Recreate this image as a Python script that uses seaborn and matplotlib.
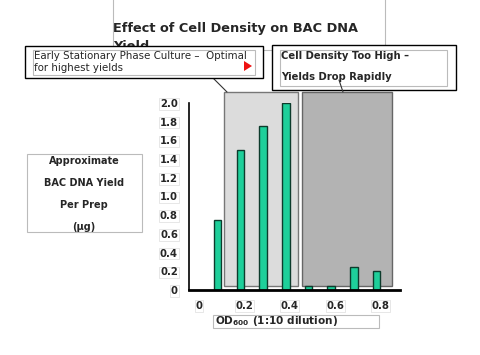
import numpy as np
import matplotlib
matplotlib.use("Agg")
import matplotlib.pyplot as plt
import seaborn as sns
from matplotlib.patches import Rectangle, Polygon
from matplotlib.lines import Line2D
from matplotlib.transforms import ScaledTranslation

# ---- data ----
od_values = [0.1, 0.2, 0.3, 0.4, 0.5, 0.6, 0.7, 0.8]
dna_yield = [0.75, 1.5, 1.75, 2.0, 0.04, 0.04, 0.25, 0.2]
x_tick_vals = [0, 0.2, 0.4, 0.6, 0.8]
x_tick_labels = ["0", "0.2", "0.4", "0.6", "0.8"]
y_tick_vals = [0, 0.2, 0.4, 0.6, 0.8, 1.0, 1.2, 1.4, 1.6, 1.8, 2.0]
y_tick_labels = ["0", "0.2", "0.4", "0.6", "0.8", "1.0", "1.2", "1.4", "1.6", "1.8", "2.0"]
title = "Effect of Cell Density on BAC DNA\nYield"
ylabel_lines = ["Approximate", "BAC DNA Yield", "Per Prep", "(\u00b5g)"]
note_left = "Early Stationary Phase Culture \u2013  Optimal\nfor highest yields"
note_right_1 = "Cell Density Too High \u2013"
note_right_2 = "Yields Drop Rapidly"

sns.set_style("white")
plt.rcParams['font.family'] = ['DejaVu Sans']
plt.rcParams['mathtext.default'] = 'regular'

W, H = 480, 355
fig = plt.figure(figsize=(W / 100, H / 100), dpi=100)
fig.patch.set_facecolor("white")


def fx(px):
    return px / W


def fy(py):
    return 1 - py / H


def frect(x0, y0, x1, y1, **kw):
    r = Rectangle((fx(x0), fy(y1)), fx(x1) - fx(x0), fy(y0) - fy(y1),
                  transform=fig.transFigure, **kw)
    fig.add_artist(r)
    return r


# axes: left 189, right 400, bottom 290 (y=0), top 103 (y=2.0)
ax = fig.add_axes([fx(189), fy(290), fx(400) - fx(189), fy(103) - fy(290)])
ax.set_facecolor("none")

sns.barplot(x=od_values, y=dna_yield, native_scale=True, width=0.33,
            color="#1ecf9a", edgecolor="#0d3b2c", linewidth=1.0,
            saturation=1, ax=ax, zorder=5)

ax.set_xlim(-0.026, 0.903)
ax.set_ylim(0, 2.0)

# shaded regions
ax.add_patch(Rectangle((0.128, 0.04), 0.454 - 0.128, 2.12 - 0.04,
                       facecolor="#dcdcdc", edgecolor="#777777", lw=1.0,
                       zorder=2, clip_on=False))
ax.add_patch(Rectangle((0.471, 0.04), 0.868 - 0.471, 2.12 - 0.04,
                       facecolor="#b3b3b3", edgecolor="#666666", lw=1.0,
                       zorder=2, clip_on=False))

for s in ["top", "right"]:
    ax.spines[s].set_visible(False)
ax.spines["left"].set_color("black")
ax.spines["left"].set_linewidth(1.2)
ax.spines["bottom"].set_color("black")
ax.spines["bottom"].set_linewidth(2.0)
ax.spines["bottom"].set_zorder(6)

ax.set_xticks(x_tick_vals)
ax.set_xticklabels(x_tick_labels)
ax.set_xticks(np.arange(0.066, 0.9, 0.1), minor=True)
ax.tick_params(axis="x", which="major", length=0, pad=8)
ax.tick_params(axis="x", which="minor", length=3, width=1, color="black", direction="out")
ax.set_yticks(y_tick_vals)
ax.set_yticklabels(y_tick_labels)
ax.tick_params(axis="y", length=3, width=1, color="black", direction="out", pad=5)
box_kw = dict(facecolor="none", edgecolor="#dddddd", lw=0.5, pad=0.5)
shift = ScaledTranslation(4 / 100, 0, fig.dpi_scale_trans)
for lab in ax.get_xticklabels():
    lab.set_transform(lab.get_transform() + shift)
for lab in ax.get_xticklabels() + ax.get_yticklabels():
    lab.set_fontsize(7.3)
    lab.set_fontweight("bold")
    lab.set_bbox(box_kw)
ax.set_xlabel("")
ax.set_ylabel("")

# title frame and title
frect(113, -3, 385, 50, facecolor="white", edgecolor="#bbbbbb", lw=0.8, zorder=1)
fig.text(fx(113), fy(22), title, fontsize=9.3, fontweight="bold",
         va="top", ha="left", linespacing=1.45, zorder=2)

# left callout
fig.add_artist(Line2D([fx(213), fx(227)], [fy(78), fy(92)], color="#333333",
                      lw=0.8, transform=fig.transFigure, zorder=5))
frect(25, 46, 263, 78, facecolor="white", edgecolor="black", lw=1.0, zorder=6)
frect(33, 50, 255, 75, facecolor="none", edgecolor="#bbbbbb", lw=0.8, zorder=7)
fig.text(fx(34), fy(62), note_left, fontsize=7.4, va="center", ha="left",
         linespacing=1.15, zorder=8)
tri = Polygon([(fx(244), fy(61)), (fx(252), fy(66)), (fx(244), fy(71))],
              closed=True, facecolor="#ee1111", edgecolor="none",
              transform=fig.transFigure, zorder=8)
fig.add_artist(tri)

# right callout
fig.add_artist(Line2D([fx(339), fx(343)], [fy(80), fy(92)], color="#333333",
                      lw=0.8, transform=fig.transFigure, zorder=9))
frect(272, 45, 456, 90, facecolor="white", edgecolor="black", lw=1.0, zorder=6)
frect(280, 50, 447, 86, facecolor="none", edgecolor="#bbbbbb", lw=0.8, zorder=7)
fig.text(fx(281), fy(56), note_right_1, fontsize=7.2, fontweight="bold",
         va="center", ha="left", zorder=8)
fig.text(fx(281), fy(77), note_right_2, fontsize=7.2, fontweight="bold",
         va="center", ha="left", zorder=8)

# y label box
frect(27, 154, 142, 232, facecolor="white", edgecolor="#bbbbbb", lw=0.8, zorder=1)
for i, line in enumerate(ylabel_lines):
    fig.text(fx(84), fy(160.5 + 22 * i), line, fontsize=7.0, fontweight="bold",
             ha="center", va="center", zorder=2)

# x label box
frect(213, 315, 379, 328, facecolor="white", edgecolor="#bbbbbb", lw=0.8, zorder=1)
fig.text(fx(215), fy(321.5), r"OD$_{600}$ (1:10 dilution)", fontsize=7.6,
         fontweight="bold", ha="left", va="center", zorder=2)

fig.savefig("out.png", dpi=100, facecolor="white")
